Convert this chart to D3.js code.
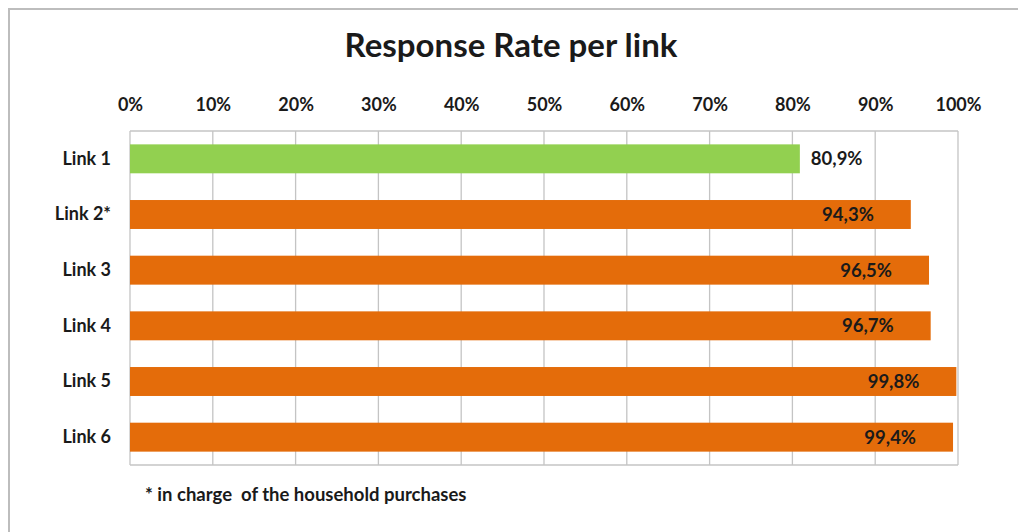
<!DOCTYPE html>
<html>
<head>
<meta charset="utf-8">
<script src="https://cdn.jsdelivr.net/npm/d3@7"></script>
<style>
  body { margin: 0; background: #fff; }
  text { font-family: Lato, "Open Sans", sans-serif; font-weight: bold; fill: #1a1a1a; }
</style>
</head>
<body>
<div id="chart"></div>
<script>
"use strict";
const links = ['Link 1', 'Link 2*', 'Link 3', 'Link 4', 'Link 5', 'Link 6']
const rates = [80.9, 94.3, 96.5, 96.7, 99.8, 99.4]
const rateLabels = ['80,9%', '94,3%', '96,5%', '96,7%', '99,8%', '99,4%']
const tickValues = [0, 10, 20, 30, 40, 50, 60, 70, 80, 90, 100]
const barColors = ['#92d050', '#e46c0a', '#e46c0a', '#e46c0a', '#e46c0a', '#e46c0a']

let m = { width: 1018, height: 532 }
let plot = { left: 130, right: 958, top: 131, bottom: 465 }

const svg = d3.select('#chart').append('svg')
    .attr('width', m.width)
    .attr('height', m.height)

// outer chart border (top + left only visible)
svg.append('path')
    .attr('d', 'M9,532V9H1018')
    .attr('fill', 'none')
    .attr('stroke', '#bdbdbd')
    .attr('stroke-width', 2)

svg.append('text')
    .attr('x', 511)
    .attr('y', 57)
    .attr('text-anchor', 'middle')
    .attr('font-size', '33px')
    .text('Response Rate per link')

let xScale = d3.scaleLinear()
    .domain([0, 100])
    .range([plot.left, plot.right])
let yScale = d3.scaleBand()
    .domain(links)
    .range([plot.top, plot.bottom])
    .paddingInner(0.48)
    .paddingOuter(0.24)

// gridlines
svg.append('g')
    .selectAll('line')
    .data(tickValues)
    .enter()
    .append('line')
      .attr('x1', d => xScale(d))
      .attr('x2', d => xScale(d))
      .attr('y1', plot.top)
      .attr('y2', plot.bottom)
      .attr('stroke', '#c4c4c4')
      .attr('stroke-width', 1.3)
svg.append('line')
    .attr('x1', plot.left).attr('x2', plot.right)
    .attr('y1', plot.top).attr('y2', plot.top)
    .attr('stroke', '#c4c4c4').attr('stroke-width', 1.3)
svg.append('line')
    .attr('x1', plot.left).attr('x2', plot.right)
    .attr('y1', plot.bottom).attr('y2', plot.bottom)
    .attr('stroke', '#c4c4c4').attr('stroke-width', 1.3)

// top axis labels
let xAxis = svg.append('g')
    .attr('transform', 'translate(0,' + (plot.top - 17) + ')')
    .call(d3.axisTop(xScale).tickValues(tickValues).tickSize(0).tickFormat(d => d + '%'))
xAxis.select('.domain').remove()
xAxis.selectAll('text')
    .attr('font-size', '18px')
    .attr('font-family', 'Lato, sans-serif')
    .attr('fill', '#1a1a1a')

// left category labels
let yAxis = svg.append('g')
    .attr('transform', 'translate(' + (plot.left - 16) + ',0)')
    .call(d3.axisLeft(yScale).tickSize(0))
yAxis.select('.domain').remove()
yAxis.selectAll('text')
    .attr('font-size', '18px')
    .attr('font-family', 'Lato, sans-serif')
    .attr('fill', '#1a1a1a')

// bars
svg.append('g')
    .selectAll('rect')
    .data(rates)
    .enter()
    .append('rect')
      .attr('x', xScale(0))
      .attr('y', (d, i) => yScale(links[i]))
      .attr('width', d => xScale(d) - xScale(0))
      .attr('height', yScale.bandwidth())
      .attr('fill', (d, i) => barColors[i])

// value labels: first one outside, rest inside end
svg.append('g')
    .selectAll('text')
    .data(rates)
    .enter()
    .append('text')
      .attr('x', (d, i) => i === 0 ? xScale(d) + 11 : xScale(d) - 37)
      .attr('y', (d, i) => yScale(links[i]) + yScale.bandwidth() / 2)
      .attr('dy', '0.36em')
      .attr('text-anchor', (d, i) => i === 0 ? 'start' : 'end')
      .attr('font-size', '18.5px')
      .text((d, i) => rateLabels[i])

svg.append('text')
    .attr('x', 145)
    .attr('y', 501)
    .attr('font-size', '18.5px')
    .attr('xml:space', 'preserve')
    .style('white-space', 'pre')
    .text('* in charge  of the household purchases')
</script>
</body>
</html>
